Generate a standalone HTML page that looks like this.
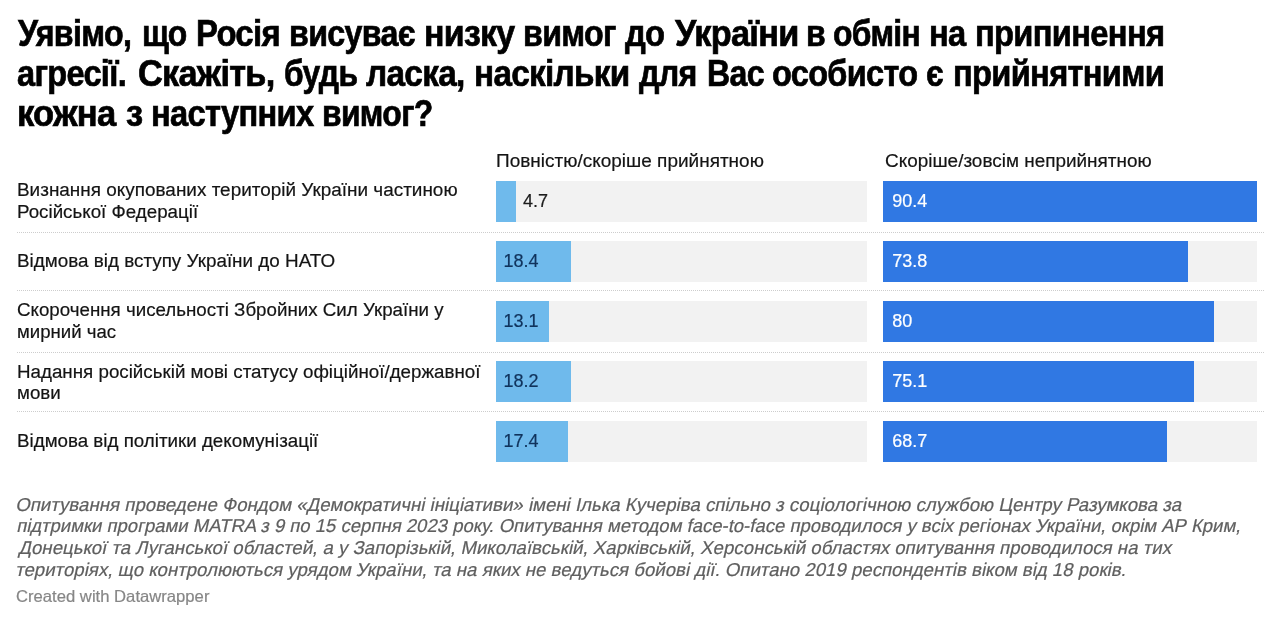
<!DOCTYPE html>
<html lang="uk"><head><meta charset="utf-8"><title>Datawrapper chart</title>
<style>
html,body{margin:0;padding:0;background:#fff}
h1{margin:0;font-size:inherit;font-weight:inherit}
body{width:1280px;height:624px;position:relative;overflow:hidden;font-family:"Liberation Sans",Arial,Helvetica,sans-serif}
.t{position:absolute;white-space:nowrap;line-height:1;transform-origin:0 0.8465em}
.tr,.b1,.b2,.ln{position:absolute}
.tr{background:#f2f2f2;height:41px}
.b1{background:#6fbaec;height:41px}
.b2{background:#3078e3;height:41px}
.ln{left:17px;width:1247px;height:0;border-top:1.5px dotted #cdcdcd}
.s0{font-size:36px;color:#000;font-weight:bold;-webkit-text-stroke:0.7px #000;letter-spacing:-0.750px;}
.s1{font-size:18.8px;color:#141414;-webkit-text-stroke:0.2px #141414;}
.s2{font-size:18.6px;color:#5f5f5f;-webkit-text-stroke:0.2px #5f5f5f;}
.s3{font-size:16.5px;color:#868686;-webkit-text-stroke:0.2px #868686;}
.s4{font-size:18px;color:#1c1c1c;-webkit-text-stroke:0.2px #1c1c1c;}
.s5{font-size:18px;color:#10335c;-webkit-text-stroke:0.2px #10335c;}
.s6{font-size:18px;color:#fff;-webkit-text-stroke:0.2px #fff;}
</style></head>
<body>
<h1>
<span class="line">
<span class="t s0" style="left:18.39px;top:15.83px;transform:scaleX(0.8937)">Уявімо,</span>
<span class="t s0" style="left:141.73px;top:15.83px;transform:scaleX(0.8857)">що</span>
<span class="t s0" style="left:195.67px;top:15.83px;transform:scaleX(0.9129)">Росія</span>
<span class="t s0" style="left:289.46px;top:15.83px;transform:scaleX(0.8946)">висуває</span>
<span class="t s0" style="left:423.72px;top:15.83px;transform:scaleX(0.9411)">низку</span>
<span class="t s0" style="left:523.21px;top:15.83px;transform:scaleX(0.8946)">вимог</span>
<span class="t s0" style="left:625.31px;top:15.83px;transform:scaleX(0.9091)">до</span>
<span class="t s0" style="left:674.70px;top:15.83px;transform:scaleX(0.9519)">України</span>
<span class="t s0" style="left:806.32px;top:15.83px;transform:scaleX(0.8895)">в</span>
<span class="t s0" style="left:833.07px;top:15.83px;transform:scaleX(0.8850)">обмін</span>
<span class="t s0" style="left:928.79px;top:15.83px;transform:scaleX(0.9075)">на</span>
<span class="t s0" style="left:975.08px;top:15.83px;transform:scaleX(0.9083)">припинення</span>
</span>
<span class="line">
<span class="t s0" style="left:17.25px;top:55.68px;transform:scaleX(0.9029)">агресії.</span>
<span class="t s0" style="left:137.80px;top:55.68px;transform:scaleX(0.9521)">Скажіть,</span>
<span class="t s0" style="left:283.78px;top:55.68px;transform:scaleX(0.8850)">будь</span>
<span class="t s0" style="left:366.25px;top:55.68px;transform:scaleX(0.9259)">ласка,</span>
<span class="t s0" style="left:474.40px;top:55.68px;transform:scaleX(0.9242)">наскільки</span>
<span class="t s0" style="left:638.99px;top:55.68px;transform:scaleX(0.8946)">для</span>
<span class="t s0" style="left:706.97px;top:55.68px;transform:scaleX(0.8911)">Вас</span>
<span class="t s0" style="left:772.20px;top:55.68px;transform:scaleX(0.9025)">особисто</span>
<span class="t s0" style="left:926.33px;top:55.68px;transform:scaleX(0.8850)">є</span>
<span class="t s0" style="left:952.59px;top:55.68px;transform:scaleX(0.9070)">прийнятними</span>
</span>
<span class="line">
<span class="t s0" style="left:16.74px;top:95.68px;transform:scaleX(0.9600)">кожна</span>
<span class="t s0" style="left:126.25px;top:95.68px;transform:scaleX(0.9559)">з</span>
<span class="t s0" style="left:151.29px;top:95.68px;transform:scaleX(0.9062)">наступних</span>
<span class="t s0" style="left:321.75px;top:95.68px;transform:scaleX(0.8850)">вимог?</span>
</span>
</h1>
<div class="chart">
<div class="t s1" style="left:495.89px;top:151.99px;transform:scaleX(1.0108)">Повністю/скоріше прийнятною</div>
<div class="t s1" style="left:884.90px;top:151.99px;transform:scaleX(1.0080)">Скоріше/зовсім неприйнятною</div>
<div class="tr" style="left:496px;top:181.25px;width:371.25px"></div>
<div class="b1" style="left:496px;top:181.25px;width:19.6px"></div>
<div class="tr" style="left:883.25px;top:181.25px;width:373.65px"></div>
<div class="b2" style="left:883.25px;top:181.25px;width:373.65px"></div>
<div class="tr" style="left:496px;top:241.25px;width:371.25px"></div>
<div class="b1" style="left:496px;top:241.25px;width:74.6px"></div>
<div class="tr" style="left:883.25px;top:241.25px;width:373.65px"></div>
<div class="b2" style="left:883.25px;top:241.25px;width:305.04px"></div>
<div class="tr" style="left:496px;top:301.25px;width:371.25px"></div>
<div class="b1" style="left:496px;top:301.25px;width:53.1px"></div>
<div class="tr" style="left:883.25px;top:301.25px;width:373.65px"></div>
<div class="b2" style="left:883.25px;top:301.25px;width:330.66px"></div>
<div class="tr" style="left:496px;top:361.25px;width:371.25px"></div>
<div class="b1" style="left:496px;top:361.25px;width:74.9px"></div>
<div class="tr" style="left:883.25px;top:361.25px;width:373.65px"></div>
<div class="b2" style="left:883.25px;top:361.25px;width:310.41px"></div>
<div class="tr" style="left:496px;top:421.25px;width:371.25px"></div>
<div class="b1" style="left:496px;top:421.25px;width:71.75px"></div>
<div class="tr" style="left:883.25px;top:421.25px;width:373.65px"></div>
<div class="b2" style="left:883.25px;top:421.25px;width:283.96px"></div>
<div class="ln" style="top:232.00px"></div>
<div class="ln" style="top:290.40px"></div>
<div class="ln" style="top:352.00px"></div>
<div class="ln" style="top:411.40px"></div>
<div class="t s1" style="left:17.09px;top:181.29px;transform:scaleX(1.0078)">Визнання окупованих територій України частиною</div>
<div class="t s1" style="left:17.10px;top:202.99px;transform:scaleX(0.9981)">Російської Федерації</div>
<div class="t s1" style="left:17.10px;top:251.89px;transform:scaleX(1.0037)">Відмова від вступу України до НАТО</div>
<div class="t s1" style="left:17.00px;top:301.29px;transform:scaleX(0.9971)">Скорочення чисельності Збройних Сил України у</div>
<div class="t s1" style="left:17.11px;top:322.99px;transform:scaleX(0.9914)">мирний час</div>
<div class="t s1" style="left:17.10px;top:362.64px;transform:scaleX(0.9989)">Надання російській мові статусу офіційної/державної</div>
<div class="t s1" style="left:17.10px;top:384.29px;transform:scaleX(0.9976)">мови</div>
<div class="t s1" style="left:17.10px;top:432.39px;transform:scaleX(0.9988)">Відмова від політики декомунізації</div>
<div class="t s4" style="left:523.10px;top:191.66px">4.7</div>
<div class="t s5" style="left:503.40px;top:251.66px">18.4</div>
<div class="t s5" style="left:503.40px;top:311.66px">13.1</div>
<div class="t s5" style="left:503.40px;top:371.66px">18.2</div>
<div class="t s5" style="left:503.40px;top:431.66px">17.4</div>
<div class="t s6" style="left:892.25px;top:191.66px">90.4</div>
<div class="t s6" style="left:892.25px;top:251.66px">73.8</div>
<div class="t s6" style="left:892.25px;top:311.66px">80</div>
<div class="t s6" style="left:892.25px;top:371.66px">75.1</div>
<div class="t s6" style="left:892.25px;top:431.66px">68.7</div>
</div>
<div class="notes">
<div class="t s2" style="left:14.79px;top:495.56px;transform:scaleX(1.0038) skewX(-12deg)">Опитування проведене Фондом «Демократичні ініціативи» імені Ілька Кучеріва спільно з соціологічною службою Центру Разумкова за</div>
<div class="t s2" style="left:15.80px;top:516.81px;transform:scaleX(0.9957) skewX(-12deg)">підтримки програми MATRA з 9 по 15 серпня 2023 року. Опитування методом face-to-face проводилося у всіх регіонах України, окрім АР Крим,</div>
<div class="t s2" style="left:17.80px;top:538.56px;transform:scaleX(1.0023) skewX(-12deg)">Донецької та Луганської областей, а у Запорізькій, Миколаївській, Харківській, Херсонській областях опитування проводилося на тих</div>
<div class="t s2" style="left:14.80px;top:560.56px;transform:scaleX(1.0020) skewX(-12deg)">територіях, що контролюються урядом України, та на яких не ведуться бойові дії. Опитано 2019 респондентів віком від 18 років.</div>
</div>
<div class="footer">
<div class="t s3" style="left:16.25px;top:588.03px;transform:scaleX(1.0091)">Created with Datawrapper</div>
</div>
</body></html>
